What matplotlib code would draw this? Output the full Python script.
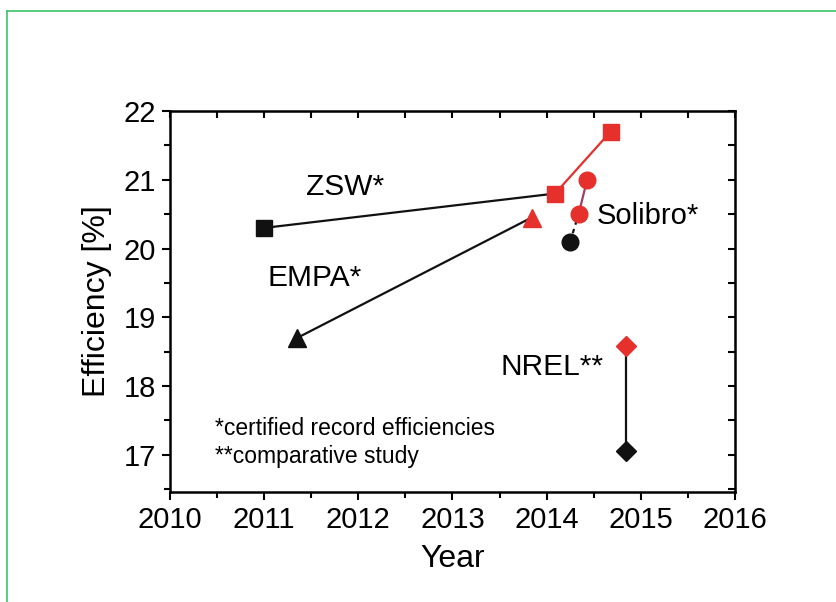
import matplotlib.pyplot as plt
from matplotlib.lines import Line2D
from matplotlib.ticker import MultipleLocator

plt.rcParams['font.family'] = ['Liberation Sans', 'DejaVu Sans']

# data
zsw_year = [2011.0, 2014.09, 2014.68]
zsw_eff = [20.3, 20.8, 21.7]
empa_year = [2011.35, 2013.84]
empa_eff = [18.7, 20.45]
solibro_year = [2014.25, 2014.34, 2014.43]
solibro_eff = [20.1, 20.5, 21.0]
nrel_year = [2014.84, 2014.84]
nrel_eff = [17.05, 18.58]

red = '#e5302b'
black = '#111111'

fig = plt.figure(figsize=(8.36, 6.02), dpi=100)
ax = fig.add_axes([0.2033, 0.1827, 0.6758, 0.6329])

# connecting lines
ax.plot(zsw_year[:2], zsw_eff[:2], color=black, lw=1.6, zorder=2)
ax.plot(zsw_year[1:], zsw_eff[1:], color=red, lw=1.6, zorder=2)
ax.plot(empa_year, empa_eff, color=black, lw=1.6, zorder=2)
ax.plot(solibro_year[:2], solibro_eff[:2], color=black, lw=1.6, ls=(0, (2, 2)), zorder=2)
ax.plot(solibro_year[1:], solibro_eff[1:], color='#a04060', lw=1.6, zorder=2)
ax.plot(nrel_year, nrel_eff, color=black, lw=1.6, zorder=2)

# markers: first point black (old), others red (new)
ax.plot(zsw_year[:1], zsw_eff[:1], 's', color=black, ms=12, zorder=3)
ax.plot(zsw_year[1:], zsw_eff[1:], 's', color=red, ms=12, zorder=3)
ax.plot(empa_year[:1], empa_eff[:1], '^', color=black, ms=13, zorder=3)
ax.plot(empa_year[1:], empa_eff[1:], '^', color=red, ms=13, zorder=3)
ax.plot(solibro_year[:1], solibro_eff[:1], 'o', color=black, ms=12, zorder=3)
ax.plot(solibro_year[1:], solibro_eff[1:], 'o', color=red, ms=12, zorder=3)
ax.plot(nrel_year[:1], nrel_eff[:1], 'D', color=black, ms=10, zorder=3)
ax.plot(nrel_year[1:], nrel_eff[1:], 'D', color=red, ms=10, zorder=3)

# group labels
ax.text(2011.86, 20.9, 'ZSW*', fontsize=21.5, ha='center', va='center')
ax.text(2011.54, 19.57, 'EMPA*', fontsize=21.5, ha='center', va='center')
ax.text(2014.53, 20.47, 'Solibro*', fontsize=21, ha='left', va='center')
ax.text(2014.6, 18.28, 'NREL**', fontsize=21.5, ha='right', va='center')
ax.text(2010.48, 17.38, '*certified record efficiencies', fontsize=16.5, ha='left', va='center')
ax.text(2010.48, 16.97, '**comparative study', fontsize=16.5, ha='left', va='center')

ax.set_xlim(2010, 2016)
ax.set_ylim(16.46, 22)
ax.xaxis.set_major_locator(MultipleLocator(1))
ax.xaxis.set_minor_locator(MultipleLocator(0.5))
ax.set_yticks([17, 18, 19, 20, 21, 22])
ax.yaxis.set_minor_locator(MultipleLocator(0.5))
ax.tick_params(which='major', direction='out', length=6, width=1.5, labelsize=21, pad=4)
ax.tick_params(which='minor', direction='out', length=4, width=1.5)
for s in ax.spines.values():
    s.set_linewidth(1.8)

top = ax.secondary_xaxis('top')
top.xaxis.set_major_locator(MultipleLocator(0.5))
top.tick_params(direction='in', length=5, width=1.5, labeltop=False)
right = ax.secondary_yaxis('right')
right.yaxis.set_major_locator(MultipleLocator(0.5))
right.tick_params(direction='in', length=5, width=1.5, labelright=False)

ax.set_xlabel('Year', fontsize=23, labelpad=7)
ax.set_ylabel('Efficiency [%]', fontsize=23, labelpad=8)

# green frame lines at top and left
fig.add_artist(Line2D([0.008, 1.0], [0.981, 0.981], color='#3cc46a', lw=1.2, transform=fig.transFigure))
fig.add_artist(Line2D([0.008, 0.008], [0.0, 0.981], color='#3cc46a', lw=1.2, transform=fig.transFigure))

fig.savefig('out.png', dpi=100)
